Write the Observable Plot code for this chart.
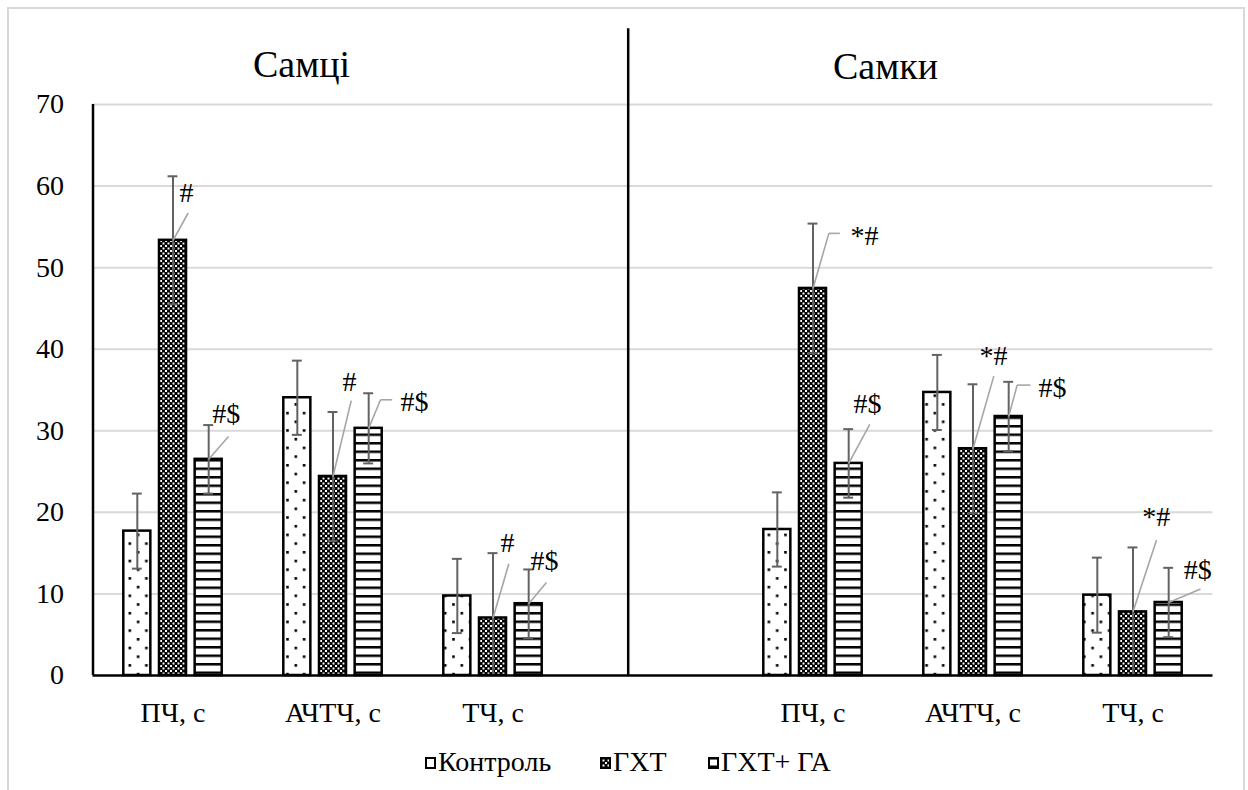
<!DOCTYPE html>
<html><head><meta charset="utf-8">
<script src="https://cdn.jsdelivr.net/npm/d3@7"></script>
<script src="https://cdn.jsdelivr.net/npm/@observablehq/plot@0.6"></script>
</head>
<body style="margin:0;background:#fff;color:#000;font-family:'Times New Roman',Tinos,'Liberation Serif',serif">
<div id="wrap" style="position:relative;width:1248px;height:790px;overflow:hidden;background:#fff;font-family:'Times New Roman',Tinos,'Liberation Serif',serif">
  <div style="position:absolute;left:7px;top:7px;width:1238px;height:820px;border:2px solid #d9d9d9;box-sizing:border-box"></div>
  <div id="chart" style="position:absolute;left:0;top:0"></div>
  <div style="position:absolute;left:253px;top:45px;font-size:38px;line-height:38px;white-space:nowrap;font-family:'Times New Roman',Tinos,'Liberation Serif',serif">Самці</div>
  <div style="position:absolute;left:833px;top:47px;font-size:38px;line-height:38px;white-space:nowrap;font-family:'Times New Roman',Tinos,'Liberation Serif',serif">Самки</div>
  <div id="legend"></div>
</div>
<script>
// ---------- data ----------
const groups = ["Самці", "Самки"];
const categories = ["ПЧ, с", "АЧТЧ, с", "ТЧ, с"];
const series = ["Контроль", "ГХТ", "ГХТ+ ГА"];
const yTicks = [0, 10, 20, 30, 40, 50, 60, 70];

const maleControl   = [17.7, 34.05, 9.75];
const maleControlSD = [4.6, 4.55, 4.55];
const maleGHT       = [53.35, 24.4, 7.05];
const maleGHTSD     = [7.85, 7.9, 7.95];
const maleGHTGA     = [26.5, 30.3, 8.8];
const maleGHTGASD   = [4.2, 4.3, 4.2];

const femaleControl   = [17.9, 34.7, 9.85];
const femaleControlSD = [4.55, 4.6, 4.6];
const femaleGHT       = [47.45, 27.8, 7.8];
const femaleGHTSD     = [7.95, 7.9, 7.9];
const femaleGHTGA     = [26.0, 31.75, 8.95];
const femaleGHTGASD   = [4.2, 4.25, 4.25];

// significance labels
const sigGroup    = [0, 0, 0, 0, 0, 0, 1, 1, 1, 1, 1, 1];
const sigCategory = [0, 0, 1, 1, 2, 2, 0, 0, 1, 1, 2, 2];
const sigSeries   = [1, 2, 1, 2, 1, 2, 1, 2, 1, 2, 1, 2];
const sigText     = ["#", "#$", "#", "#$", "#", "#$", "*#", "#$", "*#", "#$", "*#", "#$"];

// ---------- layout (separate from data) ----------
const FONT = "'Times New Roman', Tinos, 'Liberation Serif', serif";
const slotStep = 0.223;
const barHalf = 0.0845;
const capHalf = 0.031;
const dividerAt = 2.845;
const dividerTop = 79.3;
// [leaderDx, leaderY, elbowDx, textDx, textY]
const sigLayout = [
  [0.095, 56.7, null, 0.041, 59.2],
  [0.124, 29.3, null, 0.022, 32.0],
  [0.114, 33.7, null, 0.059, 36.0],
  [0.074, 33.8, 0.147, 0.199, 33.5],
  [0.099, 13.7, null, 0.047, 16.3],
  [0.111, 11.4, null, 0.011, 14.0],
  [0.099, 54.2, 0.168, 0.234, 53.9],
  [0.132, 30.8, null, 0.030, 33.3],
  [0.130, 36.7, null, 0.041, 39.2],
  [0.053, 35.6, 0.136, 0.186, 35.3],
  [0.147, 16.6, null, 0.058, 19.4],
  [0.199, 10.6, null, 0.094, 12.9]
];
const fills = ["url(#patDots)", "url(#patCheck)", "url(#patStripes)"];

// ---------- build tables ----------
const means = [[maleControl, maleGHT, maleGHTGA], [femaleControl, femaleGHT, femaleGHTGA]];
const sds = [[maleControlSD, maleGHTSD, maleGHTGASD], [femaleControlSD, femaleGHTSD, femaleGHTGASD]];
const rows = [];
groups.forEach((g, gi) => categories.forEach((c, ci) => series.forEach((s, si) => {
  rows.push({group: g, category: c, series: s, gi, ci, si, value: means[gi][si][ci], sd: sds[gi][si][ci]});
})));
const pos = d => d.gi * 4 + d.ci + (d.si - 1) * slotStep;
rows.forEach(d => { d.x = pos(d); d.hi = d.value + d.sd; d.lo = Math.max(0, d.value - d.sd); });

const sig = sigText.map((t, i) => {
  const bar = rows.find(r => r.gi === sigGroup[i] && r.ci === sigCategory[i] && r.si === sigSeries[i]);
  const [ldx, ly, edx, tdx, ty] = sigLayout[i];
  return {text: t, bx: bar.x, by: bar.value, lx: bar.x + ldx, ly, ex: edx == null ? null : bar.x + edx, tx: bar.x + tdx, ty};
});

const catTicks = [];
groups.forEach((g, gi) => categories.forEach((c, ci) => catTicks.push(gi * 4 + ci)));

const barMarks = series.map((s, si) => Plot.rect(rows.filter(d => d.si === si), {
  x1: d => d.x - barHalf, x2: d => d.x + barHalf, y1: 0, y2: "value",
  fill: fills[si], stroke: "#000", strokeWidth: 2.5
}));

const chart = Plot.plot({
  width: 1248,
  height: 740,
  marginLeft: 92.5,
  marginRight: 35.5,
  marginTop: 104,
  marginBottom: 65,
  style: {fontFamily: FONT, fontSize: "28px", color: "#000", background: "transparent", overflow: "visible"},
  x: {domain: [-0.5, 6.5], ticks: catTicks, tickFormat: d => categories[d % 4], tickSize: 0, tickPadding: 27, label: null},
  y: {domain: [0, 70], ticks: yTicks, tickSize: 0, tickPadding: 29, label: null},
  marks: [
    Plot.ruleY(yTicks.filter(t => t > 0), {stroke: "#d9d9d9", strokeWidth: 2}),
    ...barMarks,
    Plot.ruleX(rows, {x: "x", y1: "lo", y2: "hi", stroke: "#626262", strokeWidth: 2}),
    Plot.ruleY(rows, {y: "hi", x1: d => d.x - capHalf, x2: d => d.x + capHalf, stroke: "#626262", strokeWidth: 2}),
    Plot.ruleY(rows.filter(d => d.value - d.sd > 0), {y: "lo", x1: d => d.x - capHalf, x2: d => d.x + capHalf, stroke: "#626262", strokeWidth: 2}),
    Plot.link(sig, {x1: "bx", y1: "by", x2: "lx", y2: "ly", stroke: "#a6a6a6", strokeWidth: 1.6}),
    Plot.link(sig.filter(d => d.ex != null), {x1: "lx", y1: "ly", x2: "ex", y2: "ly", stroke: "#a6a6a6", strokeWidth: 1.6}),
    Plot.text(sig, {x: "tx", y: "ty", text: "text", textAnchor: "start", lineAnchor: "middle", fontSize: 28, fontFamily: FONT, fill: "#000"}),
    Plot.ruleY([0], {stroke: "#000", strokeWidth: 2.5}),
    Plot.ruleX([-0.5], {y1: 0, y2: 70, stroke: "#000", strokeWidth: 2.5}),
    Plot.ruleX([dividerAt], {y1: 0, y2: dividerTop, stroke: "#000", strokeWidth: 2.5})
  ]
});

// fill patterns live inside the chart's own SVG
const NS = "http://www.w3.org/2000/svg";
const defs = document.createElementNS(NS, "defs");
function addPattern(id, w, h, parts) {
  const p = document.createElementNS(NS, "pattern");
  p.setAttribute("id", id);
  p.setAttribute("patternUnits", "userSpaceOnUse");
  p.setAttribute("width", w);
  p.setAttribute("height", h);
  parts.forEach(([x, y, rw, rh, f]) => {
    const r = document.createElementNS(NS, "rect");
    r.setAttribute("x", x); r.setAttribute("y", y);
    r.setAttribute("width", rw); r.setAttribute("height", rh);
    r.setAttribute("fill", f);
    p.appendChild(r);
  });
  defs.appendChild(p);
}
addPattern("patDots", 16.6, 17.4, [[0, 0, 16.6, 17.4, "#fff"], [12.3, 2.9, 2.6, 2.6, "#000"], [4.0, 11.6, 2.6, 2.6, "#000"]]);
addPattern("patCheck", 5, 5, [[0, 0, 5, 5, "#000"], [0, 0, 2, 2, "#fff"], [2.5, 2.5, 2, 2, "#fff"]]);
addPattern("patStripes", 10, 8.5, [[0, 0, 10, 8.5, "#fff"], [0, 0, 10, 2.5, "#000"]]);
chart.insertBefore(defs, chart.firstChild);
chart.querySelectorAll("text").forEach(t => t.setAttribute("font-family", FONT));
document.getElementById("chart").appendChild(chart);

// ---------- legend ----------
const legendLeft = [425, 600, 708];
const legend = document.getElementById("legend");
series.forEach((s, si) => {
  const item = document.createElement("div");
  item.style.cssText = `position:absolute;left:${legendLeft[si]}px;top:748px;font-size:28px;line-height:28px;white-space:nowrap;display:flex;align-items:center;font-family:${FONT}`;
  const sw = document.createElementNS(NS, "svg");
  sw.setAttribute("width", 11); sw.setAttribute("height", 12);
  sw.style.marginRight = "2px"; sw.style.marginTop = "2px";
  const r = document.createElementNS(NS, "rect");
  r.setAttribute("x", 1); r.setAttribute("y", 1); r.setAttribute("width", 9); r.setAttribute("height", 10);
  r.setAttribute("fill", fills[si]); r.setAttribute("stroke", "#000"); r.setAttribute("stroke-width", 2);
  sw.appendChild(r);
  const span = document.createElement("span");
  span.textContent = s;
  item.appendChild(sw);
  item.appendChild(span);
  legend.appendChild(item);
});
</script>
</body></html>
